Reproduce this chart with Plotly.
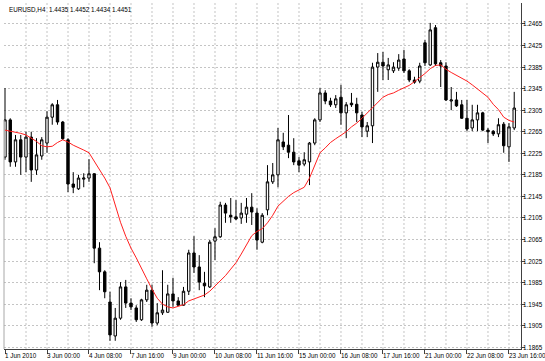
import plotly.graph_objects as go

# EURUSD H4 candles, bar index 0 = 1 Jun 2010 16:00
opens = [1.2218, 1.2287, 1.2209, 1.2250, 1.2218, 1.2255, 1.2194, 1.2220, 1.2244, 1.2292,
         1.2315, 1.2283, 1.2250, 1.2168, 1.2159, 1.2177, 1.2179, 1.2187, 1.2049, 1.2005,
         1.1949, 1.1886, 1.1919, 1.1977, 1.1947, 1.1938, 1.1916, 1.1953, 1.1971, 1.1910,
         1.1929, 1.1930, 1.1964, 1.1951, 1.1943, 1.1969, 1.2040, 1.2014, 1.1984, 1.1977,
         1.2062, 1.2070, 1.2129, 1.2110, 1.2107, 1.2105, 1.2112, 1.2125, 1.2114, 1.2060,
         1.2120, 1.2172, 1.2185, 1.2246, 1.2240, 1.2227, 1.2211, 1.2205, 1.2209, 1.2244,
         1.2287, 1.2337, 1.2322, 1.2315, 1.2329, 1.2300, 1.2318, 1.2316, 1.2296, 1.2266,
         1.2276, 1.2385, 1.2394, 1.2380, 1.2378, 1.2383, 1.2400, 1.2378, 1.2361, 1.2359,
         1.2430, 1.2389, 1.2458, 1.2393, 1.2387, 1.2322, 1.2324, 1.2315, 1.2290, 1.2272,
         1.2287, 1.2300, 1.2268, 1.2266, 1.2261, 1.2279, 1.2237, 1.2272]
highs = [1.2346, 1.2290, 1.2259, 1.2259, 1.2265, 1.2265, 1.2253, 1.2255, 1.2303, 1.2318,
         1.2324, 1.2285, 1.2253, 1.2190, 1.2185, 1.2188, 1.2214, 1.2188, 1.2060, 1.2008,
         1.1968, 1.1938, 1.1986, 1.1990, 1.1956, 1.1943, 1.1955, 1.1981, 1.1981, 1.1947,
         1.2008, 1.1981, 1.1994, 1.1958, 1.1977, 1.2046, 1.2071, 1.2036, 1.2005, 1.2064,
         1.2086, 1.2135, 1.2133, 1.2142, 1.2138, 1.2133, 1.2142, 1.2151, 1.2123, 1.2114,
         1.2203, 1.2207, 1.2272, 1.2263, 1.2296, 1.2253, 1.2218, 1.2227, 1.2246, 1.2290,
         1.2346, 1.2342, 1.2328, 1.2333, 1.2352, 1.2320, 1.2337, 1.2328, 1.2302, 1.2283,
         1.2393, 1.2411, 1.2413, 1.2402, 1.2394, 1.2409, 1.2417, 1.2381, 1.2367, 1.2393,
         1.2435, 1.2467, 1.2463, 1.2398, 1.2394, 1.2348, 1.2339, 1.2324, 1.2324, 1.2315,
         1.2315, 1.2302, 1.2272, 1.2268, 1.2290, 1.2283, 1.2281, 1.2339]
lows = [1.2213, 1.2200, 1.2200, 1.2185, 1.2190, 1.2172, 1.2185, 1.2213, 1.2226, 1.2278,
        1.2278, 1.2250, 1.2153, 1.2151, 1.2157, 1.2162, 1.2172, 1.2021, 1.1971, 1.1956,
        1.1877, 1.1877, 1.1916, 1.1938, 1.1934, 1.1912, 1.1914, 1.1949, 1.1903, 1.1906,
        1.1925, 1.1929, 1.1940, 1.1942, 1.1942, 1.1962, 1.2003, 1.1971, 1.1958, 1.1975,
        1.2027, 1.2068, 1.2096, 1.2096, 1.2101, 1.2094, 1.2096, 1.2092, 1.2046, 1.2058,
        1.2110, 1.2168, 1.2162, 1.2231, 1.2216, 1.2203, 1.2190, 1.2201, 1.2166, 1.2240,
        1.2283, 1.2316, 1.2311, 1.2309, 1.2278, 1.2253, 1.2311, 1.2283, 1.2255, 1.2255,
        1.2244, 1.2339, 1.2361, 1.2361, 1.2374, 1.2378, 1.2374, 1.2357, 1.2354, 1.2355,
        1.2387, 1.2387, 1.2387, 1.2348, 1.2322, 1.2305, 1.2311, 1.2289, 1.2266, 1.2266,
        1.2266, 1.2266, 1.2244, 1.2257, 1.2255, 1.2226, 1.2209, 1.2268]
closes = [1.2287, 1.2209, 1.2250, 1.2218, 1.2255, 1.2194, 1.2222, 1.2250, 1.2292, 1.2315,
          1.2283, 1.2252, 1.2168, 1.2162, 1.2179, 1.2179, 1.2187, 1.2049, 1.2005, 1.1968,
          1.1888, 1.1919, 1.1977, 1.1947, 1.1940, 1.1916, 1.1953, 1.1971, 1.1910, 1.1929,
          1.1934, 1.1964, 1.1951, 1.1943, 1.1969, 1.2040, 1.2014, 1.1986, 1.1979, 1.2060,
          1.2070, 1.2129, 1.2114, 1.2107, 1.2103, 1.2114, 1.2125, 1.2116, 1.2064, 1.2110,
          1.2172, 1.2185, 1.2250, 1.2237, 1.2227, 1.2209, 1.2203, 1.2213, 1.2244, 1.2287,
          1.2337, 1.2322, 1.2315, 1.2326, 1.2300, 1.2315, 1.2315, 1.2300, 1.2274, 1.2276,
          1.2385, 1.2394, 1.2387, 1.2389, 1.2385, 1.2398, 1.2378, 1.2361, 1.2357, 1.2387,
          1.2393, 1.2454, 1.2391, 1.2387, 1.2324, 1.2324, 1.2313, 1.2290, 1.2270, 1.2287,
          1.2300, 1.2268, 1.2265, 1.2261, 1.2278, 1.2239, 1.2274, 1.2309]
# moving average (red line)
ma = [1.2268, 1.2266, 1.2265, 1.2262, 1.2259, 1.2253, 1.2247, 1.2239, 1.2237, 1.2238,
      1.2245, 1.2250, 1.2246, 1.2240, 1.2236, 1.2231, 1.2226, 1.2211, 1.2194, 1.2179,
      1.2161, 1.2127, 1.2097, 1.2071, 1.2049, 1.2031, 1.2010, 1.1992, 1.1973, 1.1956,
      1.1945, 1.1940, 1.1938, 1.1941, 1.1944, 1.1951, 1.1955, 1.1958, 1.1962, 1.1969,
      1.1979, 1.1988, 1.1998, 1.2010, 1.2022, 1.2038, 1.2056, 1.2072, 1.2080, 1.2085,
      1.2096, 1.2110, 1.2127, 1.2136, 1.2145, 1.2152, 1.2157, 1.2162, 1.2179, 1.2203,
      1.2226, 1.2235, 1.2245, 1.2252, 1.2258, 1.2265, 1.2274, 1.2281, 1.2290, 1.2300,
      1.2310, 1.2320, 1.2329, 1.2334, 1.2337, 1.2342, 1.2346, 1.2351, 1.2358, 1.2365,
      1.2373, 1.2382, 1.2388, 1.2389, 1.2381, 1.2375, 1.2370, 1.2365, 1.2359, 1.2352,
      1.2344, 1.2337, 1.2329, 1.2316, 1.2306, 1.2292, 1.2286, 1.2283]

x_tick_labels = ["1 Jun 2010", "3 Jun 00:00", "4 Jun 08:00", "7 Jun 16:00", "9 Jun 00:00",
                 "10 Jun 08:00", "11 Jun 16:00", "15 Jun 00:00", "16 Jun 08:00",
                 "17 Jun 16:00", "21 Jun 00:00", "22 Jun 08:00", "23 Jun 16:00"]
y_tick_values = [1.1865, 1.1905, 1.1945, 1.1985, 1.2025, 1.2065, 1.2105, 1.2145,
                 1.2185, 1.2225, 1.2265, 1.2305, 1.2345, 1.2385, 1.2425, 1.2465]
title_text = "EURUSD,H4  1.4435 1.4452 1.4434 1.4451"

bars = list(range(len(opens)))
x_tick_positions = bars[::8][:len(x_tick_labels)]
grid_positions = bars[4::4]

FONT = "Liberation Sans, Arial, sans-serif"
GRID = "#c4c4c4"
FS = 6.3
AXIS = "#404040"

fig = go.Figure()
fig.add_trace(go.Candlestick(
    x=bars, open=opens, high=highs, low=lows, close=closes,
    increasing=dict(line=dict(color="black", width=1), fillcolor="white"),
    decreasing=dict(line=dict(color="black", width=1), fillcolor="black"),
    whiskerwidth=0, hoverinfo="skip", showlegend=False,
))
fig.add_trace(go.Scatter(
    x=bars, y=ma, mode="lines", line=dict(color="#ff2020", width=1),
    hoverinfo="skip", showlegend=False,
))

annotations = [dict(
    text=title_text, xref="paper", yref="paper", x=0.005, y=1,
    xanchor="left", yanchor="top", yshift=-1, showarrow=False,
    font=dict(family=FONT, size=FS, color="black"),
)]
# x tick labels: left-aligned at their tick, as in the original
for pos, lab in zip(x_tick_positions, x_tick_labels):
    annotations.append(dict(
        text=lab, xref="x", yref="paper", x=pos, y=0,
        xanchor="left", yanchor="top", xshift=-2, yshift=-1, showarrow=False,
        font=dict(family=FONT, size=FS, color="black"),
    ))
# y tick labels on the right
for val in y_tick_values:
    annotations.append(dict(
        text=f"{val:.4f}", xref="paper", yref="y", x=1, y=val,
        xanchor="left", yanchor="middle", xshift=0, showarrow=False,
        font=dict(family=FONT, size=FS, color="black"),
    ))

# dotted vertical grid every 4 bars (no line at the very first bar)
shapes = [dict(type="line", xref="x", yref="paper", x0=g, x1=g, y0=0, y1=1,
               line=dict(color=GRID, width=1, dash="2px,2px"), layer="below")
          for g in grid_positions]
# grey left border line of the chart window, below the first candle
shapes.append(dict(type="line", xref="paper", yref="y", x0=0, x1=0,
                   y0=1.18618, y1=closes[0],
                   line=dict(color="#a8a8a8", width=1), layer="above"))

fig.update_layout(
    width=545, height=361,
    margin=dict(l=4, r=24, t=3, b=12, autoexpand=False),
    paper_bgcolor="white", plot_bgcolor="white",
    font=dict(family=FONT, size=FS, color="black"),
    hovermode=False, boxgap=0.35,
    xaxis=dict(
        range=[-0.19, 98.29], rangeslider=dict(visible=False),
        tickmode="array", tickvals=x_tick_positions, showticklabels=False,
        ticks="outside", ticklen=4, tickcolor=AXIS,
        showline=True, linecolor=AXIS, linewidth=1,
        showgrid=False,
        zeroline=False, fixedrange=True, automargin=False,
    ),
    yaxis=dict(
        range=[1.18618, 1.25039], side="right",
        tickmode="array", tickvals=y_tick_values, showticklabels=False,
        ticks="outside", ticklen=3, tickcolor=AXIS,
        showline=True, linecolor=AXIS, linewidth=1,
        showgrid=True, gridcolor=GRID, griddash="2px,2px", gridwidth=1,
        zeroline=False, fixedrange=True, automargin=False,
    ),
    annotations=annotations,
    shapes=shapes,
)

fig.write_html(
    "out.html",
    config={"displayModeBar": False, "staticPlot": True},
    post_script="document.body.style.margin='0px';document.body.style.overflow='hidden';",
)
